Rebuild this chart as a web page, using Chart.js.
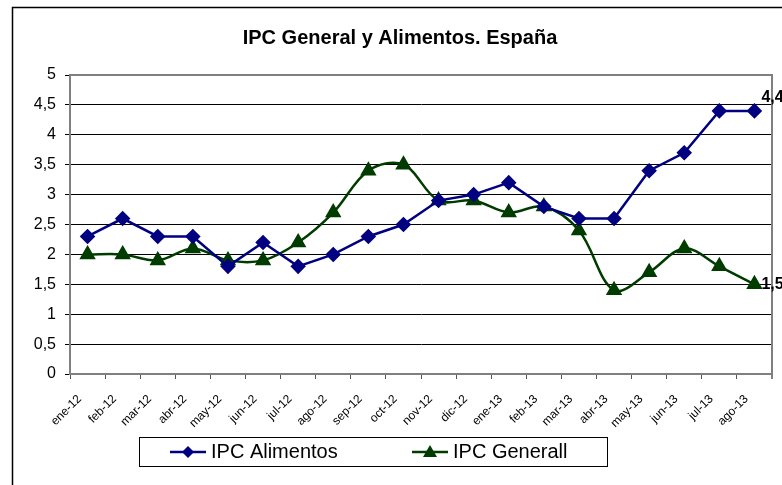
<!DOCTYPE html>
<html><head><meta charset="utf-8">
<script src="https://cdn.jsdelivr.net/npm/chart.js@4"></script>
<style>html,body{margin:0;padding:0;background:#fff}#wrap{width:782px;height:485px;position:relative}</style>
</head><body><div id="wrap"><canvas id="c" width="782" height="485"></canvas></div>
<script>
const categories = ['ene-12','feb-12','mar-12','abr-12','may-12','jun-12','jul-12','ago-12','sep-12','oct-12','nov-12','dic-12','ene-13','feb-13','mar-13','abr-13','may-13','jun-13','jul-13','ago-13'];
const alimentos = [2.3,2.6,2.3,2.3,1.8,2.2,1.8,2.0,2.3,2.5,2.9,3.0,3.2,2.8,2.6,2.6,3.4,3.7,4.4,4.4];
const general   = [2.0,2.0,1.9,2.1,1.9,1.9,2.2,2.7,3.4,3.5,2.9,2.9,2.7,2.8,2.4,1.4,1.7,2.1,1.8,1.5];
const seriesNames = ['IPC Alimentos','IPC Generall'];
const titleText = 'IPC General y Alimentos. España';
const yMin = 0, yMax = 5, yStep = 0.5;

const FONT = '"Liberation Sans", Arial, sans-serif';
const fmt = v => String(v).replace('.', ',');

const framePlugin = {
  id: 'frame',
  beforeDraw(chart) {
    const c = chart.ctx;
    c.save();
    c.fillStyle = '#fff';
    c.fillRect(0, 0, chart.width, chart.height);
    c.restore();
  },
  afterDraw(chart) {
    const c = chart.ctx, a = chart.chartArea;
    c.save();
    // outer frame
    c.strokeStyle = '#000'; c.lineWidth = 1.5;
    c.beginPath(); c.moveTo(12.5, chart.height); c.lineTo(12.5, 7.5); c.lineTo(chart.width, 7.5); c.stroke();
    // plot area top/right border
    c.strokeStyle = '#808080'; c.lineWidth = 2;
    c.beginPath(); c.moveTo(a.left, a.top); c.lineTo(a.right, a.top); c.lineTo(a.right, a.bottom + 5); c.stroke();
    // title
    c.fillStyle = '#000'; c.font = 'bold 20px ' + FONT; c.textAlign = 'center'; c.textBaseline = 'middle';
    c.fillText(titleText, 400, 38);
    // end labels
    c.font = 'bold 16px ' + FONT; c.textAlign = 'left';
    chart.data.datasets.forEach((ds, i) => {
      const meta = chart.getDatasetMeta(i);
      const last = meta.data[meta.data.length - 1];
      const dy = i === 0 ? -13 : 0;
      c.fillText(fmt(ds.data[ds.data.length - 1]), last.x + 7, last.y + dy);
    });
    // legend
    c.strokeStyle = '#000'; c.lineWidth = 1;
    c.strokeRect(139.5, 437.5, 468, 29);
    const entries = [{x: 170}, {x: 412}];
    c.font = '20px ' + FONT; c.textBaseline = 'middle';
    chart.data.datasets.forEach((ds, i) => {
      const x0 = entries[i].x, y = 452;
      c.strokeStyle = ds.borderColor; c.lineWidth = 2.5;
      c.beginPath(); c.moveTo(x0, y); c.lineTo(x0 + 36, y); c.stroke();
      c.fillStyle = ds.pointBackgroundColor;
      const mx = x0 + 18;
      c.beginPath();
      if (i === 0) {
        c.moveTo(mx, y - 6); c.lineTo(mx + 6, y); c.lineTo(mx, y + 6); c.lineTo(mx - 6, y);
      } else {
        c.moveTo(mx, y - 7); c.lineTo(mx + 7, y + 5); c.lineTo(mx - 7, y + 5);
      }
      c.closePath(); c.fill();
      c.fillStyle = '#000';
      c.fillText(ds.label, x0 + 41, y);
    });
    c.restore();
  }
};

new Chart(document.getElementById('c'), {
  type: 'line',
  data: {
    labels: categories,
    datasets: [
      { label: seriesNames[0], data: alimentos, borderColor: '#000080', backgroundColor: '#000080',
        pointBackgroundColor: '#000080', pointBorderColor: '#000080', borderWidth: 2.5,
        pointStyle: 'rectRot', pointRadius: 6, tension: 0 },
      { label: seriesNames[1], data: general, borderColor: '#003C00', backgroundColor: '#003C00',
        pointBackgroundColor: '#003C00', pointBorderColor: '#003C00', borderWidth: 2.5,
        pointStyle: 'triangle', pointRadius: 7, tension: 0.35 }
    ]
  },
  options: {
    responsive: false, animation: false, devicePixelRatio: 1,
    layout: { padding: { top: 75, right: 10, left: 0, bottom: 0 } },
    plugins: { legend: { display: false }, title: { display: false }, tooltip: { enabled: false } },
    scales: {
      x: {
        offset: true,
        ticks: { minRotation: 45, maxRotation: 45, autoSkip: false, color: '#000', font: { family: FONT, size: 12 }, padding: 13, labelOffset: -8 },
        grid: { drawOnChartArea: false, tickLength: 5, tickColor: '#555', offset: true },
        border: { color: '#808080', width: 2 },
        afterFit: s => { s.height = 111; }
      },
      y: {
        min: yMin, max: yMax,
        ticks: { stepSize: yStep, color: '#000', font: { family: FONT, size: 16 }, padding: 9, callback: v => fmt(v) },
        grid: { color: ctx => ctx.tick && ctx.tick.value === yMax ? '#808080' : '#000', lineWidth: 1, tickLength: 5, tickColor: '#000' },
        border: { color: '#808080', width: 2 },
        afterFit: s => { s.width = 70; }
      }
    }
  },
  plugins: [framePlugin]
});
</script></body></html>
